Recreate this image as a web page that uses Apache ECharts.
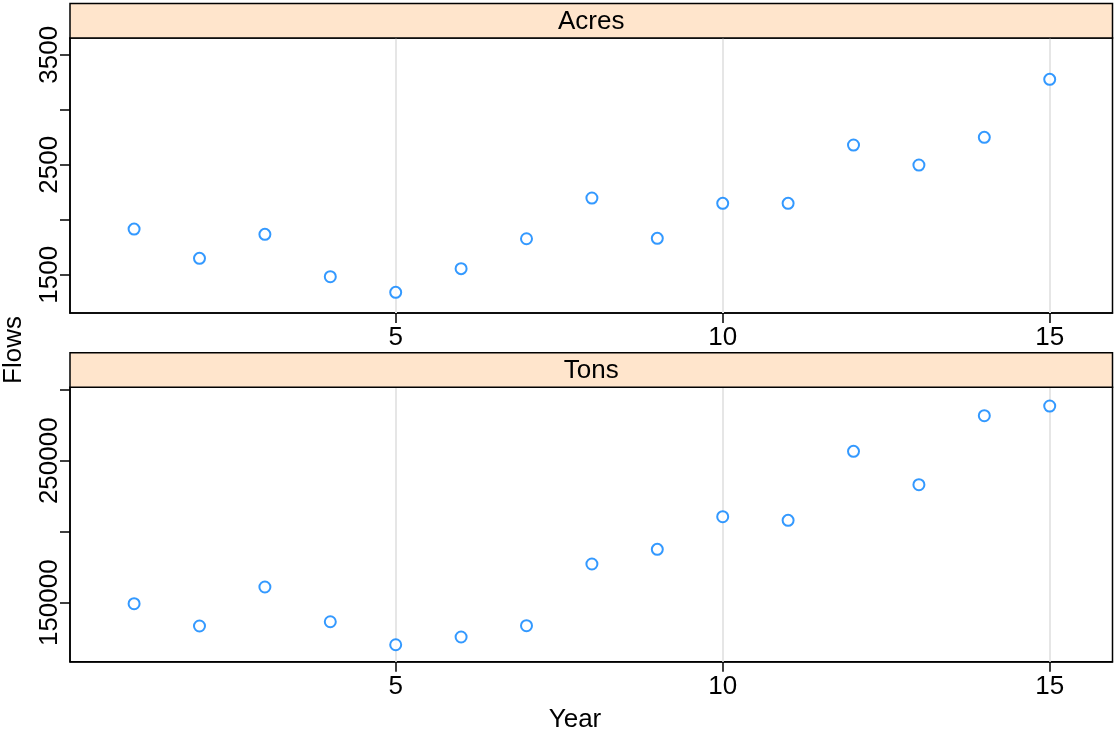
<!DOCTYPE html>
<html>
<head>
<meta charset="utf-8">
<script src="https://cdn.jsdelivr.net/npm/echarts@6/dist/echarts.min.js"></script>
<style>html,body{margin:0;padding:0;background:#fff}#c{width:1114px;height:734px}</style>
</head>
<body>
<div id="c"></div>
<script>
// ---- data ----
const years = [1,2,3,4,5,6,7,8,9,10,11,12,13,14,15];
const acres = [1915,1649,1867,1482,1340,1555,1827,2197,1831,2149,2149,2679,2497,2749,3276];
const tons = [149300,133600,161050,136600,120400,125850,133800,177250,187600,210560,208000,256600,233100,281700,288500];
const panelNames = ['Acres', 'Tons'];
const xTicks = [5, 10, 15];
const acresTicks = [1500, 2000, 2500, 3000, 3500];
const acresLabels = [1500, 2500, 3500];
const tonsTicks = [150000, 200000, 250000, 300000];
const tonsLabels = [150000, 250000];

const FONT = 'Liberation Sans, Arial, Helvetica, sans-serif';
const FS = 26;
const chart = echarts.init(document.getElementById('c'), null, {renderer: 'canvas'});

const gridL = 70, gridW = 1042.5;
const grids = [
  {left: gridL, top: 38, width: gridW, height: 275},
  {left: gridL, top: 387.3, width: gridW, height: 274.4}
];

function xAxisFor(i) {
  return {
    type: 'value', gridIndex: i, min: 0.02, max: 15.96,
    axisLine: {show: true, onZero: false, lineStyle: {color: '#000', width: 1.5}},
    axisTick: {show: true, customValues: xTicks, length: 10, lineStyle: {color: '#000', width: 1.5}},
    axisLabel: {show: true, customValues: xTicks, margin: 12, color: '#000', fontSize: FS, fontFamily: FONT,
                formatter: v => String(v)},
    splitLine: {show: false}
  };
}
function yAxisFor(i, min, max, ticks, labels) {
  return {
    type: 'value', gridIndex: i, min: min, max: max,
    axisLine: {show: true, onZero: false, lineStyle: {color: '#000', width: 1.5}},
    axisTick: {show: true, customValues: ticks, length: 10, lineStyle: {color: '#000', width: 1.5}},
    axisLabel: {show: true, customValues: labels, rotate: 90, margin: 7, color: '#000', fontSize: FS, fontFamily: FONT,
                formatter: v => String(v)},
    splitLine: {show: false}
  };
}
function seriesFor(i, vals) {
  return {
    type: 'scatter', xAxisIndex: i, yAxisIndex: i,
    data: years.map((y, k) => [y, vals[k]]),
    symbol: 'emptyCircle', symbolSize: 11,
    itemStyle: {color: '#0080ff', borderColor: '#0080ff', borderWidth: 2.4},
    z: 5,
    markLine: {
      silent: true, symbol: 'none', animation: false,
      label: {show: false},
      lineStyle: {color: '#e6e6e6', width: 2, type: 'solid'},
      data: xTicks.map(v => ({xAxis: v})),
      z: 1
    }
  };
}

const strips = [];
grids.forEach((g, i) => {
  strips.push({
    type: 'rect', shape: {x: g.left, y: g.top - 34.5, width: g.width, height: 34.5},
    style: {fill: '#ffe5cc', stroke: '#000', lineWidth: 1.5}, z: 10
  });
  strips.push({
    type: 'text', x: g.left + g.width / 2, y: g.top - 16.5,
    style: {text: panelNames[i], fill: '#000', font: FS + 'px ' + FONT, textAlign: 'center', textVerticalAlign: 'middle'}, z: 11
  });
});

chart.setOption({
  animation: false,
  backgroundColor: '#fff',
  grid: grids.map(g => Object.assign({show: true, borderColor: '#000', borderWidth: 1.5, backgroundColor: 'transparent'}, g)),
  xAxis: [xAxisFor(0), xAxisFor(1)],
  yAxis: [
    yAxisFor(0, 1152, 3652, acresTicks, acresLabels),
    yAxisFor(1, 108450, 301700, tonsTicks, tonsLabels)
  ],
  series: [seriesFor(0, acres), seriesFor(1, tons)],
  graphic: strips.concat([
    {type: 'text', x: 14, y: 350, rotation: Math.PI / 2,
     style: {text: 'Flows', fill: '#000', font: FS + 'px ' + FONT, textAlign: 'center', textVerticalAlign: 'middle'}},
    {type: 'text', x: 575, y: 720,
     style: {text: 'Year', fill: '#000', font: FS + 'px ' + FONT, textAlign: 'center', textVerticalAlign: 'middle'}}
  ])
});
</script>
</body>
</html>
